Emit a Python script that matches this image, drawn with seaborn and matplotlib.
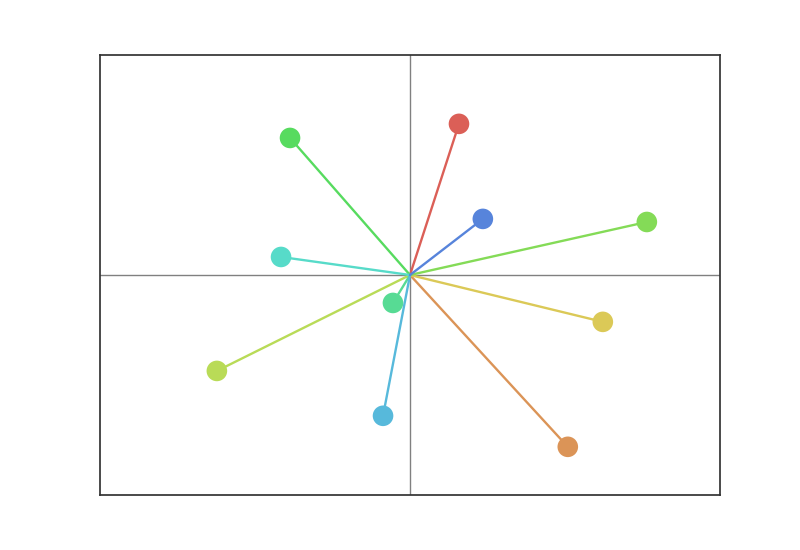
import matplotlib
matplotlib.use("Agg")
import matplotlib.pyplot as plt
import seaborn as sns
import pandas as pd

labels = ["A", "B", "C", "D", "E", "F", "G", "H", "I", "J"]
x_vals = [0.158, 0.509, 0.622, -0.623, 0.764, -0.387, -0.055, -0.416, -0.087, 0.235]
y_vals = [0.687, -0.781, -0.213, -0.436, 0.241, 0.623, -0.127, 0.082, -0.640, 0.255]

sns.set_style("white")
colors = sns.hls_palette(15)[:10]

df = pd.DataFrame({"label": labels, "x": x_vals, "y": y_vals})

fig, ax = plt.subplots(figsize=(8, 5.5), dpi=100)
fig.subplots_adjust(left=0.125, right=0.9, bottom=0.1, top=0.9)

ax.axhline(0, color="0.5", lw=1, zorder=0)
ax.axvline(0, color="0.5", lw=1, zorder=0)

for (xv, yv, c) in zip(x_vals, y_vals, colors):
    ax.plot([0, xv], [0, yv], color=c, lw=1.7, zorder=1)

sns.scatterplot(data=df, x="x", y="y", hue="label", palette=colors, s=220,
                edgecolor="none", legend=False, ax=ax, zorder=2)

ax.set_xlim(-1, 1)
ax.set_ylim(-1, 1)
ax.set_xticks([])
ax.set_yticks([])
ax.set_xlabel("")
ax.set_ylabel("")
for s in ax.spines.values():
    s.set_color("0.2")
    s.set_linewidth(1.25)

fig.savefig("out.png", dpi=100)
